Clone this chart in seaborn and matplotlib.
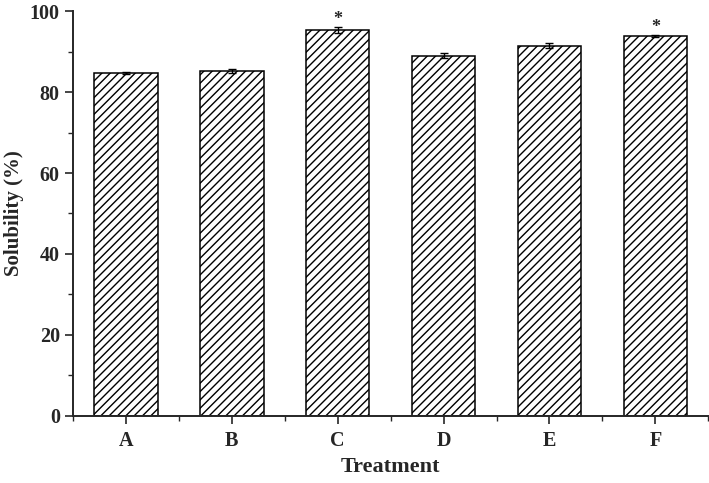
import numpy as np
import pandas as pd
import matplotlib
matplotlib.use("Agg")
import matplotlib.pyplot as plt
import seaborn as sns
from matplotlib.ticker import MultipleLocator, FixedLocator

treatments = ["A", "B", "C", "D", "E", "F"]
solubility = [84.7, 85.2, 95.3, 89.0, 91.5, 93.8]
sd = [0.3, 0.5, 0.8, 0.6, 0.5, 0.3]
significant = [False, False, True, False, False, True]

sns.set_style("ticks")
plt.rcParams['font.family'] = ['Liberation Serif', 'DejaVu Serif']
plt.rcParams['font.weight'] = 'bold'
plt.rcParams['hatch.linewidth'] = 1.0

df = pd.DataFrame({"Treatment": treatments, "Solubility": solubility})

fig = plt.figure(figsize=(7.09, 4.83), dpi=100)
ax = fig.add_axes([0.103, 0.139, 0.896, 0.838])

sns.barplot(data=df, x="Treatment", y="Solubility", color="white",
            edgecolor="black", linewidth=1.1, width=0.6, errorbar=None, ax=ax)
for p in ax.patches:
    p.set_hatch("////")

xpos = np.arange(len(treatments))
ax.errorbar(xpos, solubility, yerr=sd, fmt="none", ecolor="black",
            elinewidth=1.0, capsize=2.8, capthick=1.0)

# significance marks
for x, v, e, s in zip(xpos, solubility, sd, significant):
    if s:
        ax.text(x, v + e - 0.2, "*", ha="center", va="bottom",
                fontsize=13, fontweight="bold")

ax.set_xlim(-0.5, len(treatments) - 0.5)
ax.set_ylim(0, 100)
ax.yaxis.set_major_locator(MultipleLocator(20))
ax.yaxis.set_minor_locator(MultipleLocator(10))
ax.xaxis.set_minor_locator(FixedLocator(np.arange(-0.5, len(treatments), 1.0)))

ax.tick_params(axis="both", which="major", length=6, width=1.2,
               labelsize=14.5, direction="out")
ax.tick_params(axis="both", which="minor", length=3.5, width=1.0,
               direction="out")
ax.tick_params(axis="x", which="major", pad=5)

for lab in ax.get_xticklabels() + ax.get_yticklabels():
    lab.set_fontweight("bold")

ax.set_xlabel("Treatment", fontsize=16, fontweight="bold", labelpad=4)
ax.set_ylabel("Solubility (%)", fontsize=15, fontweight="bold", labelpad=4)

sns.despine(ax=ax)
for side in ["left", "bottom"]:
    ax.spines[side].set_linewidth(1.4)

fig.savefig("out.png", dpi=100)
